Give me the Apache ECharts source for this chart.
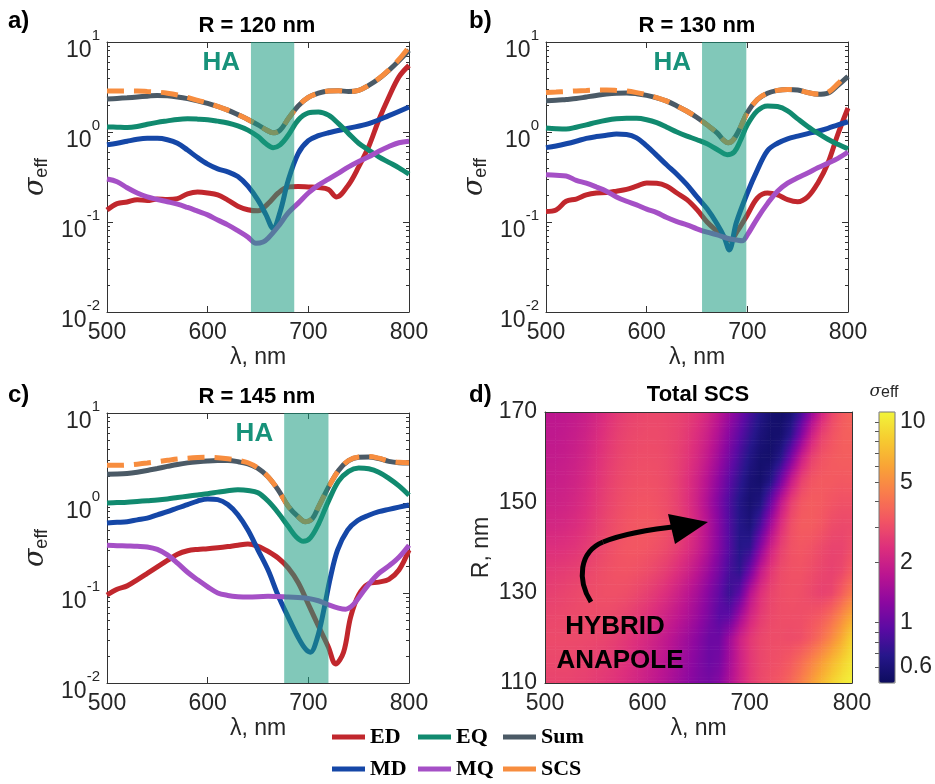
<!DOCTYPE html>
<html><head><meta charset="utf-8">
<script src="https://cdn.jsdelivr.net/npm/echarts@6/dist/echarts.min.js"></script>
<style>html,body{margin:0;padding:0;background:#fff}#c{width:935px;height:784px}</style>
</head><body><div id="c"></div>
<script>
// ---------------- DATA ----------------
const seriesNames = ['ED', 'MD', 'EQ', 'MQ', 'Sum', 'SCS'];
const panelR = [120, 130, 145];
const haBands = [[643, 686], [655, 699], [676, 720]];
const xTicks = [500, 600, 700, 800];
const yDecades = [0.01, 0.1, 1, 10];
const yMinor = [0.02,0.03,0.04,0.05,0.06,0.07,0.08,0.09,0.2,0.3,0.4,0.5,0.6,0.7,0.8,0.9,2,3,4,5,6,7,8,9];

// panel a) R = 120 nm
const aED = [[500,0.136],[510,0.16],[520,0.167],[530,0.177],[540,0.173],[550,0.18],[560,0.178],[570,0.182],[580,0.205],[590,0.215],[600,0.21],[610,0.2],[620,0.175],[630,0.15],[640,0.137],[650,0.133],[660,0.16],[670,0.21],[680,0.245],[690,0.248],[700,0.245],[710,0.242],[720,0.23],[728,0.19],[740,0.26],[750,0.41],[760,0.69],[770,1.36],[780,2.45],[790,4.1],[800,5.5]];
const aMD = [[500,0.72],[510,0.75],[520,0.79],[530,0.83],[540,0.85],[550,0.85],[560,0.82],[570,0.75],[580,0.63],[590,0.52],[600,0.44],[610,0.39],[620,0.36],[630,0.32],[640,0.25],[650,0.175],[658,0.12],[665,0.085],[672,0.13],[680,0.29],[690,0.58],[700,0.8],[710,0.91],[720,0.98],[740,1.1],[760,1.24],[780,1.52],[800,1.9]];
const aEQ = [[500,1.14],[510,1.13],[520,1.12],[530,1.15],[540,1.22],[550,1.28],[560,1.33],[570,1.38],[580,1.4],[590,1.39],[600,1.37],[610,1.32],[620,1.26],[630,1.17],[640,1.05],[650,0.89],[658,0.74],[665,0.67],[672,0.72],[680,0.92],[690,1.36],[700,1.63],[710,1.67],[720,1.54],[730,1.24],[740,0.96],[750,0.75],[760,0.63],[770,0.53],[780,0.46],[790,0.4],[800,0.34]];
const aMQ = [[500,0.3],[510,0.28],[520,0.24],[530,0.21],[540,0.19],[550,0.178],[560,0.168],[570,0.158],[580,0.145],[590,0.132],[600,0.12],[610,0.105],[620,0.093],[630,0.08],[640,0.068],[648,0.058],[655,0.06],[660,0.066],[670,0.089],[680,0.126],[690,0.162],[700,0.21],[710,0.257],[720,0.3],[730,0.35],[740,0.41],[750,0.47],[760,0.53],[770,0.61],[780,0.69],[790,0.76],[800,0.79]];
const aSum = [[500,2.32],[510,2.36],[520,2.4],[530,2.45],[540,2.5],[550,2.55],[560,2.52],[570,2.45],[580,2.35],[590,2.22],[600,2.08],[610,1.92],[620,1.75],[630,1.56],[640,1.38],[650,1.2],[658,1.06],[665,0.98],[672,1.05],[680,1.4],[690,1.95],[700,2.42],[710,2.7],[720,2.85],[730,2.87],[740,2.82],[750,2.9],[760,3.3],[770,3.9],[780,4.85],[790,6.2],[800,8.1]];
const aSCS = [[500,2.85],[510,2.85],[520,2.85],[530,2.85],[540,2.82],[550,2.78],[560,2.7],[570,2.58],[580,2.42],[590,2.25],[600,2.1],[610,1.93],[620,1.75],[630,1.56],[640,1.38],[650,1.2],[658,1.06],[665,0.98],[672,1.05],[680,1.4],[690,1.95],[700,2.42],[710,2.7],[720,2.85],[730,2.87],[740,2.82],[750,2.9],[760,3.3],[770,3.92],[780,4.9],[790,6.4],[800,8.8]];

// panel b) R = 130 nm
const bED = [[500,0.131],[510,0.136],[520,0.17],[530,0.18],[540,0.2],[550,0.21],[560,0.212],[570,0.22],[580,0.23],[590,0.25],[600,0.272],[610,0.27],[620,0.25],[630,0.21],[640,0.177],[650,0.137],[660,0.1],[670,0.079],[677,0.068],[683,0.063],[690,0.079],[700,0.12],[710,0.185],[720,0.21],[730,0.2],[740,0.177],[750,0.168],[760,0.19],[770,0.27],[780,0.45],[790,0.95],[800,1.85]];
const bMD = [[500,0.67],[510,0.7],[520,0.74],[530,0.79],[540,0.85],[550,0.89],[560,0.92],[570,0.95],[580,0.94],[590,0.86],[600,0.7],[610,0.55],[620,0.43],[630,0.34],[640,0.26],[650,0.19],[660,0.14],[670,0.095],[677,0.068],[682,0.049],[689,0.098],[700,0.21],[710,0.38],[720,0.62],[730,0.75],[740,0.84],[750,0.9],[760,0.96],[770,1.02],[780,1.1],[790,1.2],[800,1.3]];
const bEQ = [[500,1.11],[510,1.09],[520,1.08],[530,1.13],[540,1.2],[550,1.28],[560,1.35],[570,1.4],[580,1.42],[590,1.42],[600,1.37],[610,1.27],[620,1.13],[630,1.0],[640,0.9],[650,0.82],[660,0.74],[670,0.64],[680,0.56],[687,0.6],[693,0.8],[700,1.2],[710,1.72],[720,1.95],[730,1.92],[740,1.72],[750,1.4],[760,1.15],[770,0.97],[780,0.83],[790,0.73],[800,0.65]];
const bMQ = [[500,0.335],[510,0.33],[520,0.325],[530,0.29],[540,0.27],[550,0.245],[560,0.22],[570,0.19],[580,0.17],[590,0.155],[600,0.139],[610,0.127],[620,0.112],[630,0.101],[640,0.093],[650,0.084],[660,0.077],[670,0.072],[680,0.066],[690,0.063],[695,0.062],[700,0.072],[710,0.11],[720,0.16],[730,0.22],[740,0.27],[750,0.31],[760,0.35],[770,0.4],[780,0.45],[790,0.51],[800,0.6]];
const bSum = [[500,2.23],[510,2.25],[520,2.3],[530,2.35],[540,2.45],[550,2.55],[560,2.64],[570,2.7],[580,2.72],[590,2.66],[600,2.55],[610,2.4],[620,2.2],[630,1.95],[640,1.7],[650,1.45],[660,1.2],[670,0.98],[676,0.82],[681,0.76],[686,0.82],[692,1.06],[700,1.65],[710,2.3],[720,2.7],[730,2.9],[740,2.97],[750,2.93],[760,2.75],[770,2.62],[780,2.7],[790,3.3],[800,4.15]];
const bSCS = [[500,2.75],[510,2.78],[520,2.82],[530,2.86],[540,2.9],[550,2.93],[560,2.93],[570,2.9],[580,2.85],[590,2.74],[600,2.6],[610,2.41],[620,2.2],[630,1.95],[640,1.7],[650,1.45],[660,1.2],[670,0.98],[676,0.82],[681,0.76],[686,0.82],[692,1.06],[700,1.65],[710,2.3],[720,2.7],[730,2.9],[740,2.97],[750,2.93],[760,2.75],[770,2.64],[780,2.75],[790,3.45],[800,4.45]];

// panel c) R = 145 nm
const cED = [[500,0.095],[510,0.11],[520,0.12],[530,0.14],[540,0.165],[550,0.195],[560,0.23],[570,0.27],[580,0.295],[590,0.305],[600,0.31],[610,0.318],[620,0.328],[630,0.34],[640,0.35],[650,0.33],[660,0.29],[670,0.245],[680,0.19],[690,0.13],[700,0.075],[710,0.043],[720,0.025],[727,0.0163],[735,0.022],[742,0.054],[750,0.095],[760,0.127],[770,0.132],[780,0.142],[790,0.18],[800,0.3]];
const cMD = [[500,0.6],[510,0.61],[520,0.62],[530,0.65],[540,0.68],[550,0.74],[560,0.8],[570,0.88],[580,0.96],[590,1.05],[600,1.11],[610,1.09],[620,0.96],[630,0.74],[640,0.5],[650,0.3],[660,0.18],[670,0.094],[680,0.054],[690,0.032],[697,0.024],[702,0.022],[709,0.032],[716,0.07],[722,0.15],[729,0.3],[739,0.5],[749,0.64],[760,0.73],[770,0.8],[780,0.85],[790,0.9],[800,0.95]];
const cEQ = [[500,1.0],[510,1.01],[520,1.02],[530,1.04],[540,1.06],[550,1.08],[560,1.11],[570,1.15],[580,1.19],[590,1.23],[600,1.27],[610,1.32],[620,1.37],[630,1.4],[640,1.38],[650,1.3],[660,1.05],[670,0.78],[680,0.55],[688,0.42],[695,0.375],[702,0.41],[710,0.58],[720,1.05],[730,1.75],[740,2.25],[750,2.45],[760,2.4],[770,2.2],[780,1.88],[790,1.55],[800,1.22]];
const cMQ = [[500,0.34],[510,0.336],[520,0.333],[530,0.33],[540,0.325],[550,0.305],[560,0.265],[570,0.215],[580,0.17],[590,0.14],[600,0.117],[610,0.1],[620,0.094],[630,0.091],[640,0.09],[660,0.092],[680,0.09],[700,0.087],[710,0.082],[720,0.074],[730,0.068],[737,0.066],[745,0.075],[752,0.095],[760,0.125],[770,0.165],[780,0.2],[790,0.25],[800,0.34]];
const cSum = [[500,2.09],[510,2.1],[520,2.13],[530,2.2],[540,2.3],[550,2.42],[560,2.55],[570,2.68],[580,2.79],[590,2.87],[600,2.93],[610,2.96],[620,2.96],[630,2.88],[640,2.72],[650,2.42],[660,1.95],[670,1.4],[680,0.92],[690,0.7],[697,0.62],[704,0.67],[710,0.9],[720,1.5],[730,2.3],[740,2.95],[750,3.22],[760,3.25],[770,3.12],[780,2.9],[790,2.8],[800,2.78]];
const cSCS = [[500,2.62],[510,2.62],[520,2.64],[530,2.7],[540,2.78],[550,2.88],[560,2.98],[570,3.08],[580,3.15],[590,3.2],[600,3.22],[610,3.18],[620,3.1],[630,2.98],[640,2.8],[650,2.45],[660,1.96],[670,1.4],[680,0.92],[690,0.7],[697,0.62],[704,0.67],[710,0.9],[720,1.5],[730,2.3],[740,2.97],[750,3.25],[760,3.28],[770,3.15],[780,2.93],[790,2.83],[800,2.8]];

// panel d) Total SCS map: rows of R, columns of wavelength
const heatLam = [500,510,520,530,540,550,560,570,580,590,600,610,620,630,640,650,660,670,680,690,700,710,720,730,740,750,760,770,780,790,800];
const heatR = [110,115,120,125,130,135,140,145,150,155,160,165,170];
const heatRows = [
 [2.8,2.8,2.8,2.75,2.7,2.6,2.5,2.4,2.25,2.1,1.92,1.75,1.58,1.42,1.27,1.15,1.1,1.22,1.58,2.05,2.55,2.9,3.1,3.3,3.75,4.5,5.6,7.0,8.6,10.0,11.1],
 [2.9,2.9,2.9,2.85,2.8,2.72,2.65,2.52,2.38,2.2,2.02,1.85,1.68,1.5,1.33,1.17,1.04,1.1,1.48,2.0,2.52,2.85,3.02,3.12,3.35,3.85,4.6,5.6,6.9,8.4,10.0],
 [2.95,2.95,2.95,2.95,2.92,2.88,2.8,2.68,2.52,2.35,2.18,1.98,1.78,1.58,1.4,1.22,1.04,1.04,1.42,2.0,2.52,2.85,3.0,3.02,2.98,3.05,3.4,4.0,4.95,6.4,8.8],
 [2.85,2.88,2.92,2.96,2.98,3.0,2.98,2.9,2.76,2.6,2.42,2.22,2.0,1.78,1.57,1.35,1.13,0.92,0.95,1.42,2.08,2.6,2.9,3.02,3.05,3.05,3.15,3.35,3.9,4.9,6.3],
 [2.7,2.75,2.82,2.9,2.98,3.04,3.08,3.08,3.02,2.88,2.7,2.5,2.27,2.0,1.73,1.47,1.2,0.97,0.76,0.95,1.65,2.35,2.8,3.02,3.1,3.05,2.9,2.75,2.85,3.45,4.4],
 [2.55,2.58,2.64,2.72,2.83,2.96,3.08,3.16,3.18,3.12,3.0,2.82,2.6,2.32,2.02,1.7,1.38,1.08,0.82,0.71,1.05,1.8,2.5,2.95,3.12,3.15,3.02,2.85,2.75,2.9,3.4],
 [2.35,2.35,2.4,2.48,2.62,2.8,2.98,3.14,3.24,3.26,3.2,3.08,2.9,2.64,2.32,1.96,1.56,1.19,0.88,0.67,0.72,1.22,2.0,2.7,3.12,3.25,3.15,2.95,2.8,2.8,3.05],
 [2.15,2.15,2.2,2.3,2.45,2.66,2.88,3.06,3.2,3.28,3.3,3.22,3.06,2.8,2.46,2.04,1.6,1.2,0.87,0.67,0.61,0.84,1.45,2.3,3.05,3.4,3.4,3.25,3.0,2.92,2.95],
 [2.02,2.02,2.07,2.17,2.32,2.54,2.77,2.96,3.1,3.18,3.2,3.12,2.96,2.7,2.35,1.93,1.5,1.14,0.85,0.66,0.57,0.63,1.0,1.78,2.7,3.25,3.42,3.35,3.2,3.1,3.12],
 [1.93,1.93,1.98,2.07,2.22,2.44,2.67,2.87,3.0,3.08,3.1,3.05,2.92,2.68,2.36,1.99,1.6,1.24,0.94,0.73,0.59,0.55,0.65,1.05,1.85,2.72,3.2,3.35,3.35,3.3,3.35],
 [1.86,1.86,1.91,2.0,2.13,2.35,2.58,2.78,2.92,3.0,3.02,3.0,2.9,2.72,2.47,2.14,1.77,1.4,1.07,0.82,0.65,0.56,0.55,0.67,1.1,1.9,2.72,3.15,3.35,3.45,3.45],
 [1.8,1.8,1.85,1.93,2.05,2.25,2.48,2.7,2.84,2.92,2.96,2.95,2.88,2.76,2.54,2.26,1.93,1.56,1.21,0.94,0.74,0.61,0.55,0.56,0.71,1.17,1.98,2.75,3.15,3.45,3.55],
 [1.76,1.76,1.8,1.86,1.96,2.13,2.36,2.58,2.74,2.84,2.9,2.92,2.88,2.8,2.66,2.44,2.12,1.75,1.39,1.09,0.84,0.67,0.57,0.54,0.59,0.82,1.35,2.1,2.85,3.35,3.65]
];
const heatRTicks = [110, 130, 150, 170];
const cbRange = [0.5, 11.2];
const cbTicks = [0.6, 1, 2, 5, 10];
const cbMinor = [0.6,0.7,0.8,0.9,1,2,3,4,5,6,7,8,9,10];

// ---------------- STYLE ----------------
const FONT = '"Liberation Sans", Arial, Helvetica, sans-serif';
const SERIF = '"Liberation Serif", "Times New Roman", serif';
const INK = '#262626';
const AX = '#333';
const lineColors = {ED:'#c1272d', MD:'#1547a7', EQ:'#118a6f', MQ:'#a550c6', Sum:'#4b5a66', SCS:'#f78d3f'};
const cmap = ['#0c0c5e','#26168a','#5b0aa3','#8d08a0','#bb1590','#dd2f7c','#f25563','#f97c4c','#f9a436','#f6cc30','#f2f43a'];
const panelData = [
  {ED:aED, MD:aMD, EQ:aEQ, MQ:aMQ, Sum:aSum, SCS:aSCS},
  {ED:bED, MD:bMD, EQ:bEQ, MQ:bMQ, Sum:bSum, SCS:bSCS},
  {ED:cED, MD:cMD, EQ:cEQ, MQ:cMQ, Sum:cSum, SCS:cSCS}
];
const grids = [
  {left:107, top:42, width:302, height:270},
  {left:546, top:42, width:302, height:270},
  {left:107, top:413, width:302, height:270},
  {left:545, top:412, width:307, height:271},
  {left:879, top:412, width:16, height:271}
];

const xAxis = [], yAxis = [], series = [];
const tickLabel = {fontSize:23, color:INK, fontFamily:FONT};
const nameStyle = {fontSize:23, color:INK, fontFamily:FONT};

function xPair(g, z) {
  const xi = xAxis.length;
  xAxis.push({type:'value', gridIndex:g, min:500, max:800, interval:100, position:'bottom', z:z,
    axisLine:{show:true, onZero:false, lineStyle:{color:AX, width:1}},
    axisTick:{show:g<3, inside:true, length:6, lineStyle:{color:AX}},
    axisLabel:Object.assign({margin:9}, tickLabel), splitLine:{show:false},
    name:'λ, nm', nameLocation:'middle', nameGap:34, nameTextStyle:nameStyle});
  xAxis.push({type:'value', gridIndex:g, min:500, max:800, interval:100, position:'top', z:z,
    axisLine:{show:true, onZero:false, lineStyle:{color:AX, width:1}},
    axisTick:{show:g<3, inside:true, length:6, lineStyle:{color:AX}},
    axisLabel:{show:false}, splitLine:{show:false}});
  return xi;
}

const supRich = {
  h:{fontSize:1, lineHeight:40},
  b:{fontSize:23, lineHeight:28, verticalAlign:'bottom', fontFamily:FONT, color:INK},
  s:{fontSize:15, lineHeight:24, verticalAlign:'top', padding:[6,0,0,0], fontFamily:FONT, color:INK}
};

panelData.forEach((pd, g) => {
  const xi = xPair(g, 0);
  const yi = yAxis.length;
  const base = {type:'log', logBase:10, gridIndex:g, min:yDecades[0], max:yDecades[yDecades.length-1], splitLine:{show:false}, minorTick:{show:false}};
  yAxis.push(Object.assign({}, base, {position:'left',
    axisLine:{show:true, lineStyle:{color:AX}},
    axisTick:{inside:true, length:6, lineStyle:{color:AX}},
    axisLabel:{margin:7, formatter:v => '{h| }{b|10}{s|' + Math.round(Math.log10(v)) + '}', rich:supRich},
    name:'{s|σ}{e|eff}', nameLocation:'middle', nameGap:56,
    nameTextStyle:{rich:{s:{fontSize:27, lineHeight:30, fontStyle:'italic', fontFamily:'"DejaVu Serif", serif', color:INK},
                          e:{fontSize:18, lineHeight:12, verticalAlign:'bottom', fontFamily:FONT, color:INK}}}}));
  yAxis.push(Object.assign({}, base, {position:'right',
    axisLine:{show:true, lineStyle:{color:AX}},
    axisTick:{inside:true, length:6, lineStyle:{color:AX}}, axisLabel:{show:false}}));
  yAxis.push(Object.assign({}, base, {position:'left', axisLine:{show:false},
    axisTick:{inside:true, length:3, customValues:yMinor, lineStyle:{color:AX}}, axisLabel:{show:false}}));
  yAxis.push(Object.assign({}, base, {position:'right', axisLine:{show:false},
    axisTick:{inside:true, length:3, customValues:yMinor, lineStyle:{color:AX}}, axisLabel:{show:false}}));

  seriesNames.forEach(n => {
    series.push({type:'line', name:n, xAxisIndex:xi, yAxisIndex:yi, data:pd[n],
      symbol:'none', showSymbol:false, smooth:0.35, silent:true, clip:true, z:2,
      color:lineColors[n], itemStyle:{color:lineColors[n]},
      lineStyle:{color:lineColors[n], width:5, type:n === 'SCS' ? [17, 10] : 'solid', cap:'butt'}});
  });
  series.push({type:'custom', xAxisIndex:xi, yAxisIndex:yi, data:[haBands[g]], z:5, silent:true,
    encode:{x:[0,1]},
    renderItem:(params, api) => {
      const p0 = api.coord([api.value(0), 10]);
      const p1 = api.coord([api.value(1), 0.01]);
      return {type:'group', children:[
        {type:'rect', shape:{x:p0[0], y:p0[1], width:p1[0]-p0[0], height:p1[1]-p0[1]},
         style:{fill:'rgba(26,154,128,0.55)'}},
        {type:'text', x:p0[0]-11, y:p0[1]+21,
         style:{text:'HA', fill:'#17927a', font:'bold 26px ' + FONT, textAlign:'right', textVerticalAlign:'middle'}}
      ]};
    }});
});

// heatmap panel
const xd = xPair(3, 5);
const yd = yAxis.length;
yAxis.push({type:'value', gridIndex:3, min:110, max:170, position:'left', z:5,
  axisLine:{show:true, lineStyle:{color:AX}}, axisTick:{show:false},
  axisLabel:Object.assign({margin:8, customValues:heatRTicks}, tickLabel), splitLine:{show:false},
  name:'R, nm', nameLocation:'middle', nameGap:52, nameTextStyle:nameStyle});
yAxis.push({type:'value', gridIndex:3, min:110, max:170, position:'right', z:5,
  axisLine:{show:true, lineStyle:{color:AX}}, axisTick:{show:false}, axisLabel:{show:false}, splitLine:{show:false}});

const heatData = [];
heatR.forEach((r, i) => heatLam.forEach((l, j) => {
  const v = heatRows[i][j];
  heatData.push([l, r, v, Math.log10(v)]);
}));
const logMin = Math.log10(cbRange[0]), logMax = Math.log10(cbRange[1]);
const hasLerp = echarts.color && typeof echarts.color.lerp === 'function';
function colorOfLog(lv) {
  const t = Math.max(0, Math.min(1, (lv - logMin) / (logMax - logMin)));
  return echarts.color.lerp(t, cmap);
}
const nLam = heatLam.length;
const heatIndex = series.length;
series.push({type:'custom', xAxisIndex:xd, yAxisIndex:yd, data:heatData, clip:true, silent:true, z:2,
  encode:{x:0, y:1},
  renderItem:(params, api) => {
    const idx = params.dataIndex;
    const i = Math.floor(idx / nLam), j = idx % nLam;
    if (!hasLerp) {
      const p0 = api.coord([api.value(0) - 5, api.value(1) + 2.5]);
      const p1 = api.coord([api.value(0) + 5, api.value(1) - 2.5]);
      return {type:'rect', shape:{x:p0[0], y:p0[1], width:p1[0]-p0[0]+0.7, height:p1[1]-p0[1]+0.7},
        style:{fill:api.visual('color')}};
    }
    if (i >= heatR.length - 1 || j >= nLam - 1) return null;
    // shading between this cell centre and its right/upper neighbours (like shading interp)
    const l00 = Math.log10(heatRows[i][j]), l01 = Math.log10(heatRows[i][j+1]);
    const l10 = Math.log10(heatRows[i+1][j]), l11 = Math.log10(heatRows[i+1][j+1]);
    const pA = api.coord([heatLam[j], heatR[i]]);
    const pB = api.coord([heatLam[j+1], heatR[i+1]]);
    const w = pB[0] - pA[0], h = pA[1] - pB[1];
    const N = 8, M = 5;
    const children = [];
    for (let k = 0; k < N; k++) {
      const t = (k + 0.5) / N;
      const L = l00 + (l10 - l00) * t, R = l01 + (l11 - l01) * t;
      const stops = [];
      for (let m = 0; m <= M; m++) stops.push({offset:m / M, color:colorOfLog(L + (R - L) * m / M)});
      children.push({type:'rect', shape:{x:pA[0], y:pA[1] - (k + 1) * h / N, width:w + 0.6, height:h / N + 0.6},
        style:{fill:{type:'linear', x:0, y:0, x2:1, y2:0, colorStops:stops}}});
    }
    return {type:'group', children:children};
  }});

// colorbar axis
xAxis.push({type:'value', gridIndex:4, show:false, min:0, max:1});
yAxis.push({type:'value', gridIndex:4, position:'right', min:logMin, max:logMax, z:6,
  axisLine:{show:false}, splitLine:{show:false},
  axisTick:{show:true, inside:true, length:4, customValues:cbMinor.map(Math.log10), lineStyle:{color:'#555'}},
  axisLabel:Object.assign({margin:7, customValues:cbTicks.map(Math.log10),
    formatter:v => String(Math.round(Math.pow(10, v) * 10) / 10)}, tickLabel)});

// legends, one per entry
const legendRows = [['ED','EQ','Sum'], ['MD','MQ','SCS']];
const legendX = [332, 418, 503];
const legendY = [726, 758];
const legend = [];
legendRows.forEach((row, r) => row.forEach((n, c) => legend.push({
  data:[n], left:legendX[c], top:legendY[r], padding:0, itemGap:0, itemWidth:33, itemHeight:5,
  icon:'rect', selectedMode:false,
  textStyle:{fontFamily:SERIF, fontWeight:'bold', fontSize:22, color:'#000', padding:[0,0,0,0]}})));

// annotation graphics
const txt = (x, y, text, font, align) => ({type:'text', x:x, y:y, z:20,
  style:{text:text, font:font, fill:'#000', textAlign:align || 'center', textVerticalAlign:'middle'}});
const graphic = [
  txt(8, 21, 'a)', 'bold 24px ' + FONT, 'left'),
  txt(469, 21, 'b)', 'bold 24px ' + FONT, 'left'),
  txt(8, 395, 'c)', 'bold 24px ' + FONT, 'left'),
  txt(469, 395, 'd)', 'bold 24px ' + FONT, 'left'),
  txt(257, 26, 'R = ' + panelR[0] + ' nm', 'bold 22px ' + FONT),
  txt(697, 26, 'R = ' + panelR[1] + ' nm', 'bold 22px ' + FONT),
  txt(257, 397, 'R = ' + panelR[2] + ' nm', 'bold 22px ' + FONT),
  txt(698, 395, 'Total SCS', 'bold 22px ' + FONT),
  txt(615, 627, 'HYBRID', 'bold 26px ' + FONT),
  txt(620, 661, 'ANAPOLE', 'bold 26px ' + FONT),
  {type:'bezierCurve', z:20, shape:{x1:591, y1:602, cpx1:577, cpy1:580, cpx2:579, cpy2:552, x2:603, y2:542},
   style:{stroke:'#000', lineWidth:5, fill:null}},
  {type:'bezierCurve', z:20, shape:{x1:603, y1:542, cpx1:625, cpy1:533, cpx2:652, cpy2:529, x2:681, y2:526},
   style:{stroke:'#000', lineWidth:5, fill:null}},
  {type:'polygon', z:20, shape:{points:[[668,514],[708,522],[675,544]]}, style:{fill:'#000'}},
  {type:'text', x:884, y:392, z:20, style:{rich:{s:{fontSize:17, fontStyle:'italic', fontFamily:'"DejaVu Serif", serif', fill:INK, lineHeight:18},
     e:{fontSize:16, fontFamily:FONT, fill:INK, lineHeight:10, verticalAlign:'bottom'}},
     text:'{s|σ}{e|eff}', textAlign:'center', textVerticalAlign:'middle'}},
  {type:'rect', z:20, shape:{x:879, y:412, width:16, height:271}, style:{fill:null, stroke:'#777', lineWidth:1}}
];

const chart = echarts.init(document.getElementById('c'));
chart.setOption({
  animation:false,
  backgroundColor:'#fff',
  textStyle:{fontFamily:FONT},
  grid:grids,
  xAxis:xAxis,
  yAxis:yAxis,
  series:series,
  legend:legend,
  visualMap:[{type:'continuous', seriesIndex:heatIndex, dimension:3,
    min:logMin, max:logMax, inRange:{color:cmap},
    left:879, top:412, itemWidth:16, itemHeight:271, calculable:false, padding:0,
    hoverLink:false, realtime:false, text:null}],
  graphic:graphic
});
</script></body></html>
